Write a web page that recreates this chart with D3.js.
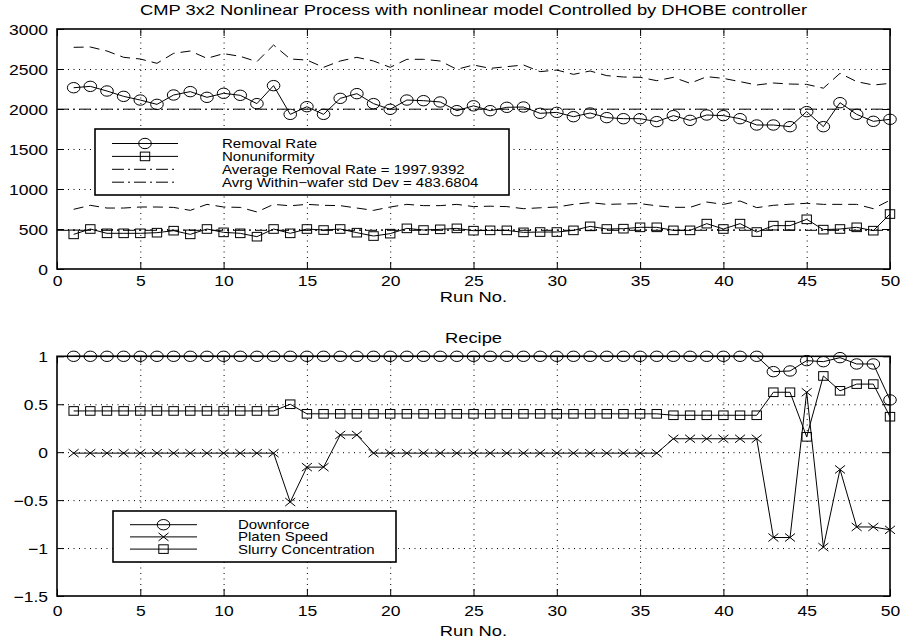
<!DOCTYPE html>
<html>
<head>
<meta charset="utf-8">
<script src="https://cdn.jsdelivr.net/npm/d3@7"></script>
<style>
  body { margin: 0; background: #fff; }
  svg { display: block; font-family: "Liberation Sans", Arial, Helvetica, sans-serif; }
</style>
</head>
<body>
<div id="chart"></div>
<script>
// run numbers on the x axis
const runs = d3.range(1, 51)

// top panel: process output
const removalRate = [2266, 2283, 2225, 2158, 2112, 2058, 2175, 2217, 2146, 2196,
  2171, 2067, 2292, 1933, 2029, 1933, 2133, 2192, 2067, 1996,
  2112, 2104, 2088, 1979, 2040, 1979, 2021, 2025, 1946, 1958,
  1904, 1950, 1892, 1879, 1879, 1842, 1917, 1858, 1925, 1917,
  1879, 1800, 1800, 1779, 1967, 1779, 2079, 1933, 1846, 1871]
const nonuniformity = [433, 500, 446, 446, 446, 454, 479, 433, 500, 458,
  446, 404, 500, 446, 500, 487, 500, 454, 412, 442,
  508, 487, 496, 508, 479, 483, 483, 458, 462, 462,
  483, 533, 500, 504, 521, 521, 483, 483, 567, 500,
  567, 462, 542, 542, 621, 492, 500, 521, 479, 687]
const upperBand = [2771, 2775, 2725, 2646, 2625, 2571, 2696, 2725, 2633, 2692,
  2658, 2592, 2800, 2625, 2612, 2521, 2600, 2646, 2600, 2521,
  2621, 2621, 2600, 2496, 2550, 2508, 2529, 2550, 2467, 2487,
  2433, 2475, 2417, 2400, 2396, 2354, 2396, 2321, 2404, 2383,
  2342, 2300, 2325, 2312, 2308, 2260, 2446, 2342, 2300, 2320]
const lowerBand = [746, 796, 762, 762, 775, 775, 770, 733, 808, 775,
  770, 713, 808, 790, 808, 796, 792, 762, 733, 775,
  808, 792, 792, 808, 780, 785, 780, 754, 765, 775,
  808, 830, 808, 813, 817, 790, 771, 771, 837, 808,
  850, 767, 796, 810, 821, 808, 808, 808, 754, 860]
const avgRemovalRate = 1997.9392
const avgStdDev = 483.6804

// bottom panel: recipe
const downforce = [1, 1, 1, 1, 1, 1, 1, 1, 1, 1,
  1, 1, 1, 1, 1, 1, 1, 1, 1, 1,
  1, 1, 1, 1, 1, 1, 1, 1, 1, 1,
  1, 1, 1, 1, 1, 1, 1, 1, 1, 1,
  1, 1, 0.84, 0.847, 0.955, 0.944, 0.986, 0.92, 0.92, 0.545]
const platenSpeed = [-0.01, -0.01, -0.01, -0.01, -0.01, -0.01, -0.01, -0.01, -0.01, -0.01,
  -0.01, -0.01, -0.01, -0.52, -0.156, -0.156, 0.18, 0.18, -0.01, -0.01,
  -0.01, -0.01, -0.01, -0.01, -0.01, -0.01, -0.01, -0.01, -0.01, -0.01,
  -0.01, -0.01, -0.01, -0.01, -0.01, -0.01, 0.14, 0.14, 0.14, 0.14,
  0.14, 0.14, -0.89, -0.89, 0.625, -0.99, -0.18, -0.78, -0.78, -0.81]
const slurry = [0.43, 0.43, 0.43, 0.43, 0.43, 0.43, 0.43, 0.43, 0.43, 0.43,
  0.43, 0.43, 0.43, 0.5, 0.4, 0.4, 0.4, 0.4, 0.4, 0.4,
  0.4, 0.4, 0.4, 0.4, 0.4, 0.4, 0.4, 0.4, 0.4, 0.4,
  0.4, 0.4, 0.4, 0.4, 0.4, 0.4, 0.385, 0.385, 0.385, 0.385,
  0.385, 0.385, 0.625, 0.625, 0.16, 0.795, 0.64, 0.71, 0.71, 0.37]

const xTicks = [0, 5, 10, 15, 20, 25, 30, 35, 40, 45, 50]
const topYTicks = [0, 500, 1000, 1500, 2000, 2500, 3000]
const bottomYTicks = [-1.5, -1, -0.5, 0, 0.5, 1]

const topLegend = ['Removal Rate', 'Nonuniformity',
  'Average Removal Rate = 1997.9392', 'Avrg Within\u2212wafer std Dev = 483.6804']
const bottomLegend = ['Downforce', 'Platen Speed', 'Slurry Concentration']

// the scanned original is stretched sideways, text and markers follow that
const SX = 1.2
const DASHDOT = '12,4,2,4'
const TICK_FONT = 14.6
const TITLE_FONT = 15.3

const svg = d3.select('#chart').append('svg')
  .attr('width', 901).attr('height', 642)

function label(g, x, y, s, size, anchor) {
  return g.append('text')
    .attr('transform', `translate(${x},${y}) scale(${SX},1)`)
    .attr('font-size', size)
    .attr('text-anchor', anchor || 'middle')
    .attr('fill', '#000')
    .text(s)
}

function marker(g, type, cx, cy) {
  if (type === 'circle') {
    g.append('ellipse').attr('cx', cx).attr('cy', cy)
      .attr('rx', 6.3).attr('ry', 5.2)
      .attr('fill', 'none').attr('stroke', '#000').attr('stroke-width', 1)
  } else if (type === 'square') {
    g.append('rect').attr('x', cx - 4.7).attr('y', cy - 4.3)
      .attr('width', 9.4).attr('height', 8.6)
      .attr('fill', 'none').attr('stroke', '#000').attr('stroke-width', 1)
  } else if (type === 'x') {
    g.append('path')
      .attr('d', `M${cx - 5},${cy - 4}L${cx + 5},${cy + 4}M${cx - 5},${cy + 4}L${cx + 5},${cy - 4}`)
      .attr('fill', 'none').attr('stroke', '#000').attr('stroke-width', 1)
  }
}

function fmt(v) {
  return String(v).replace('-', '\u2212')
}

function drawAxes(g, x, y, yTicks, labelOffset) {
  const [x0, x1] = x.range()
  const [yb, yt] = y.range()

  // dotted grid
  g.append('g').attr('transform', `translate(0,${yb})`)
    .call(d3.axisBottom(x).tickValues(xTicks.slice(1, -1)).tickSize(-(yb - yt)).tickFormat(''))
    .call(a => a.select('.domain').remove())
    .selectAll('line').attr('stroke', '#000').attr('stroke-dasharray', '1,4.5')
  g.append('g').attr('transform', `translate(${x0},0)`)
    .call(d3.axisLeft(y).tickValues(yTicks.slice(1, -1)).tickSize(-(x1 - x0)).tickFormat(''))
    .call(a => a.select('.domain').remove())
    .selectAll('line').attr('stroke', '#000').attr('stroke-dasharray', '1,4.5')

  // inward ticks on all four sides
  const bottom = g.append('g').attr('transform', `translate(0,${yb})`)
    .call(d3.axisBottom(x).tickValues(xTicks).tickSize(-7).tickSizeOuter(0).tickPadding(0).tickFormat(fmt))
  bottom.select('.domain').remove()
  bottom.selectAll('text').attr('y', labelOffset).attr('dy', 0)
    .attr('transform', `scale(${SX},1)`).attr('font-size', TICK_FONT).attr('font-family', null).attr('fill', '#000')
  g.append('g').attr('transform', `translate(0,${yt})`)
    .call(d3.axisTop(x).tickValues(xTicks).tickSize(-7).tickSizeOuter(0).tickFormat(''))
    .select('.domain').remove()
  const left = g.append('g').attr('transform', `translate(${x0},0)`)
    .call(d3.axisLeft(y).tickValues(yTicks).tickSize(-7).tickSizeOuter(0).tickFormat(fmt))
  left.select('.domain').remove()
  left.selectAll('text').attr('x', -9 / SX).attr('dy', '0.36em')
    .attr('transform', `scale(${SX},1)`).attr('font-size', TICK_FONT).attr('font-family', null).attr('fill', '#000')
  g.append('g').attr('transform', `translate(${x1},0)`)
    .call(d3.axisRight(y).tickValues(yTicks).tickSize(-7).tickSizeOuter(0).tickFormat(''))
    .select('.domain').remove()
  g.selectAll('.tick line').filter(function() { return !this.getAttribute('stroke-dasharray') })
    .attr('stroke', '#000')

  g.append('rect').attr('x', x0).attr('y', yt)
    .attr('width', x1 - x0).attr('height', yb - yt)
    .attr('fill', 'none').attr('stroke', '#000').attr('stroke-width', 1.6)
}

function series(g, x, y, values, opts) {
  const line = d3.line().x((d, i) => x(runs[i])).y(d => y(d))
  g.append('path').datum(values).attr('d', line)
    .attr('fill', 'none').attr('stroke', '#000').attr('stroke-width', 1)
    .attr('stroke-dasharray', opts.dash || null)
  if (opts.marker) {
    values.forEach((v, i) => marker(g, opts.marker, x(runs[i]), y(v)))
  }
}

function hline(g, x, y, v, dash) {
  g.append('line').attr('x1', x.range()[0]).attr('x2', x.range()[1])
    .attr('y1', y(v)).attr('y2', y(v))
    .attr('stroke', '#000').attr('stroke-width', 1).attr('stroke-dasharray', dash)
}

function legend(g, box, items) {
  g.append('rect').attr('x', box.x).attr('y', box.y)
    .attr('width', box.w).attr('height', box.h)
    .attr('fill', '#fff').attr('stroke', '#000').attr('stroke-width', 1.6)
  items.forEach((it, i) => {
    const cy = box.row0 + i * box.step
    g.append('line').attr('x1', box.lx0).attr('x2', box.lx1)
      .attr('y1', cy).attr('y2', cy)
      .attr('stroke', '#000').attr('stroke-width', 1)
      .attr('stroke-dasharray', it.dash || null)
    if (it.marker) marker(g, it.marker, (box.lx0 + box.lx1) / 2, cy)
    label(g, box.tx, cy + 4.5, it.text, 12.5, 'start')
  })
}

// ---- top panel
const xTop = d3.scaleLinear().domain([0, 50]).range([57, 890])
const yTop = d3.scaleLinear().domain([0, 3000]).range([269, 29])
const gTop = svg.append('g')
drawAxes(gTop, xTop, yTop, topYTicks, 17)
hline(gTop, xTop, yTop, avgRemovalRate, DASHDOT)
hline(gTop, xTop, yTop, avgStdDev, DASHDOT)
series(gTop, xTop, yTop, upperBand, { dash: '10,6' })
series(gTop, xTop, yTop, lowerBand, { dash: '10,6' })
series(gTop, xTop, yTop, removalRate, { marker: 'circle' })
series(gTop, xTop, yTop, nonuniformity, { marker: 'square' })
legend(gTop, { x: 95, y: 129, w: 414, h: 66, row0: 143.5, step: 12.9, lx0: 112, lx1: 178, tx: 222 }, [
  { text: topLegend[0], marker: 'circle' },
  { text: topLegend[1], marker: 'square' },
  { text: topLegend[2], dash: DASHDOT },
  { text: topLegend[3], dash: DASHDOT }
])
label(svg, 473.5, 15, 'CMP 3x2 Nonlinear Process with nonlinear model Controlled by DHOBE controller', TITLE_FONT)
label(svg, 473.5, 302, 'Run No.', TITLE_FONT)

// ---- bottom panel
const xBot = d3.scaleLinear().domain([0, 50]).range([57, 890])
const yBot = d3.scaleLinear().domain([-1.5, 1]).range([596, 356.3])
const gBot = svg.append('g')
drawAxes(gBot, xBot, yBot, bottomYTicks, 20)
series(gBot, xBot, yBot, downforce, { marker: 'circle' })
series(gBot, xBot, yBot, platenSpeed, { marker: 'x' })
series(gBot, xBot, yBot, slurry, { marker: 'square' })
legend(gBot, { x: 113, y: 511, w: 283, h: 51, row0: 524.7, step: 12.2, lx0: 130, lx1: 197, tx: 238 }, [
  { text: bottomLegend[0], marker: 'circle' },
  { text: bottomLegend[1], marker: 'x' },
  { text: bottomLegend[2], marker: 'square' }
])
label(svg, 473.5, 343, 'Recipe', TITLE_FONT)
label(svg, 473.5, 636, 'Run No.', TITLE_FONT)
</script>
</body>
</html>
